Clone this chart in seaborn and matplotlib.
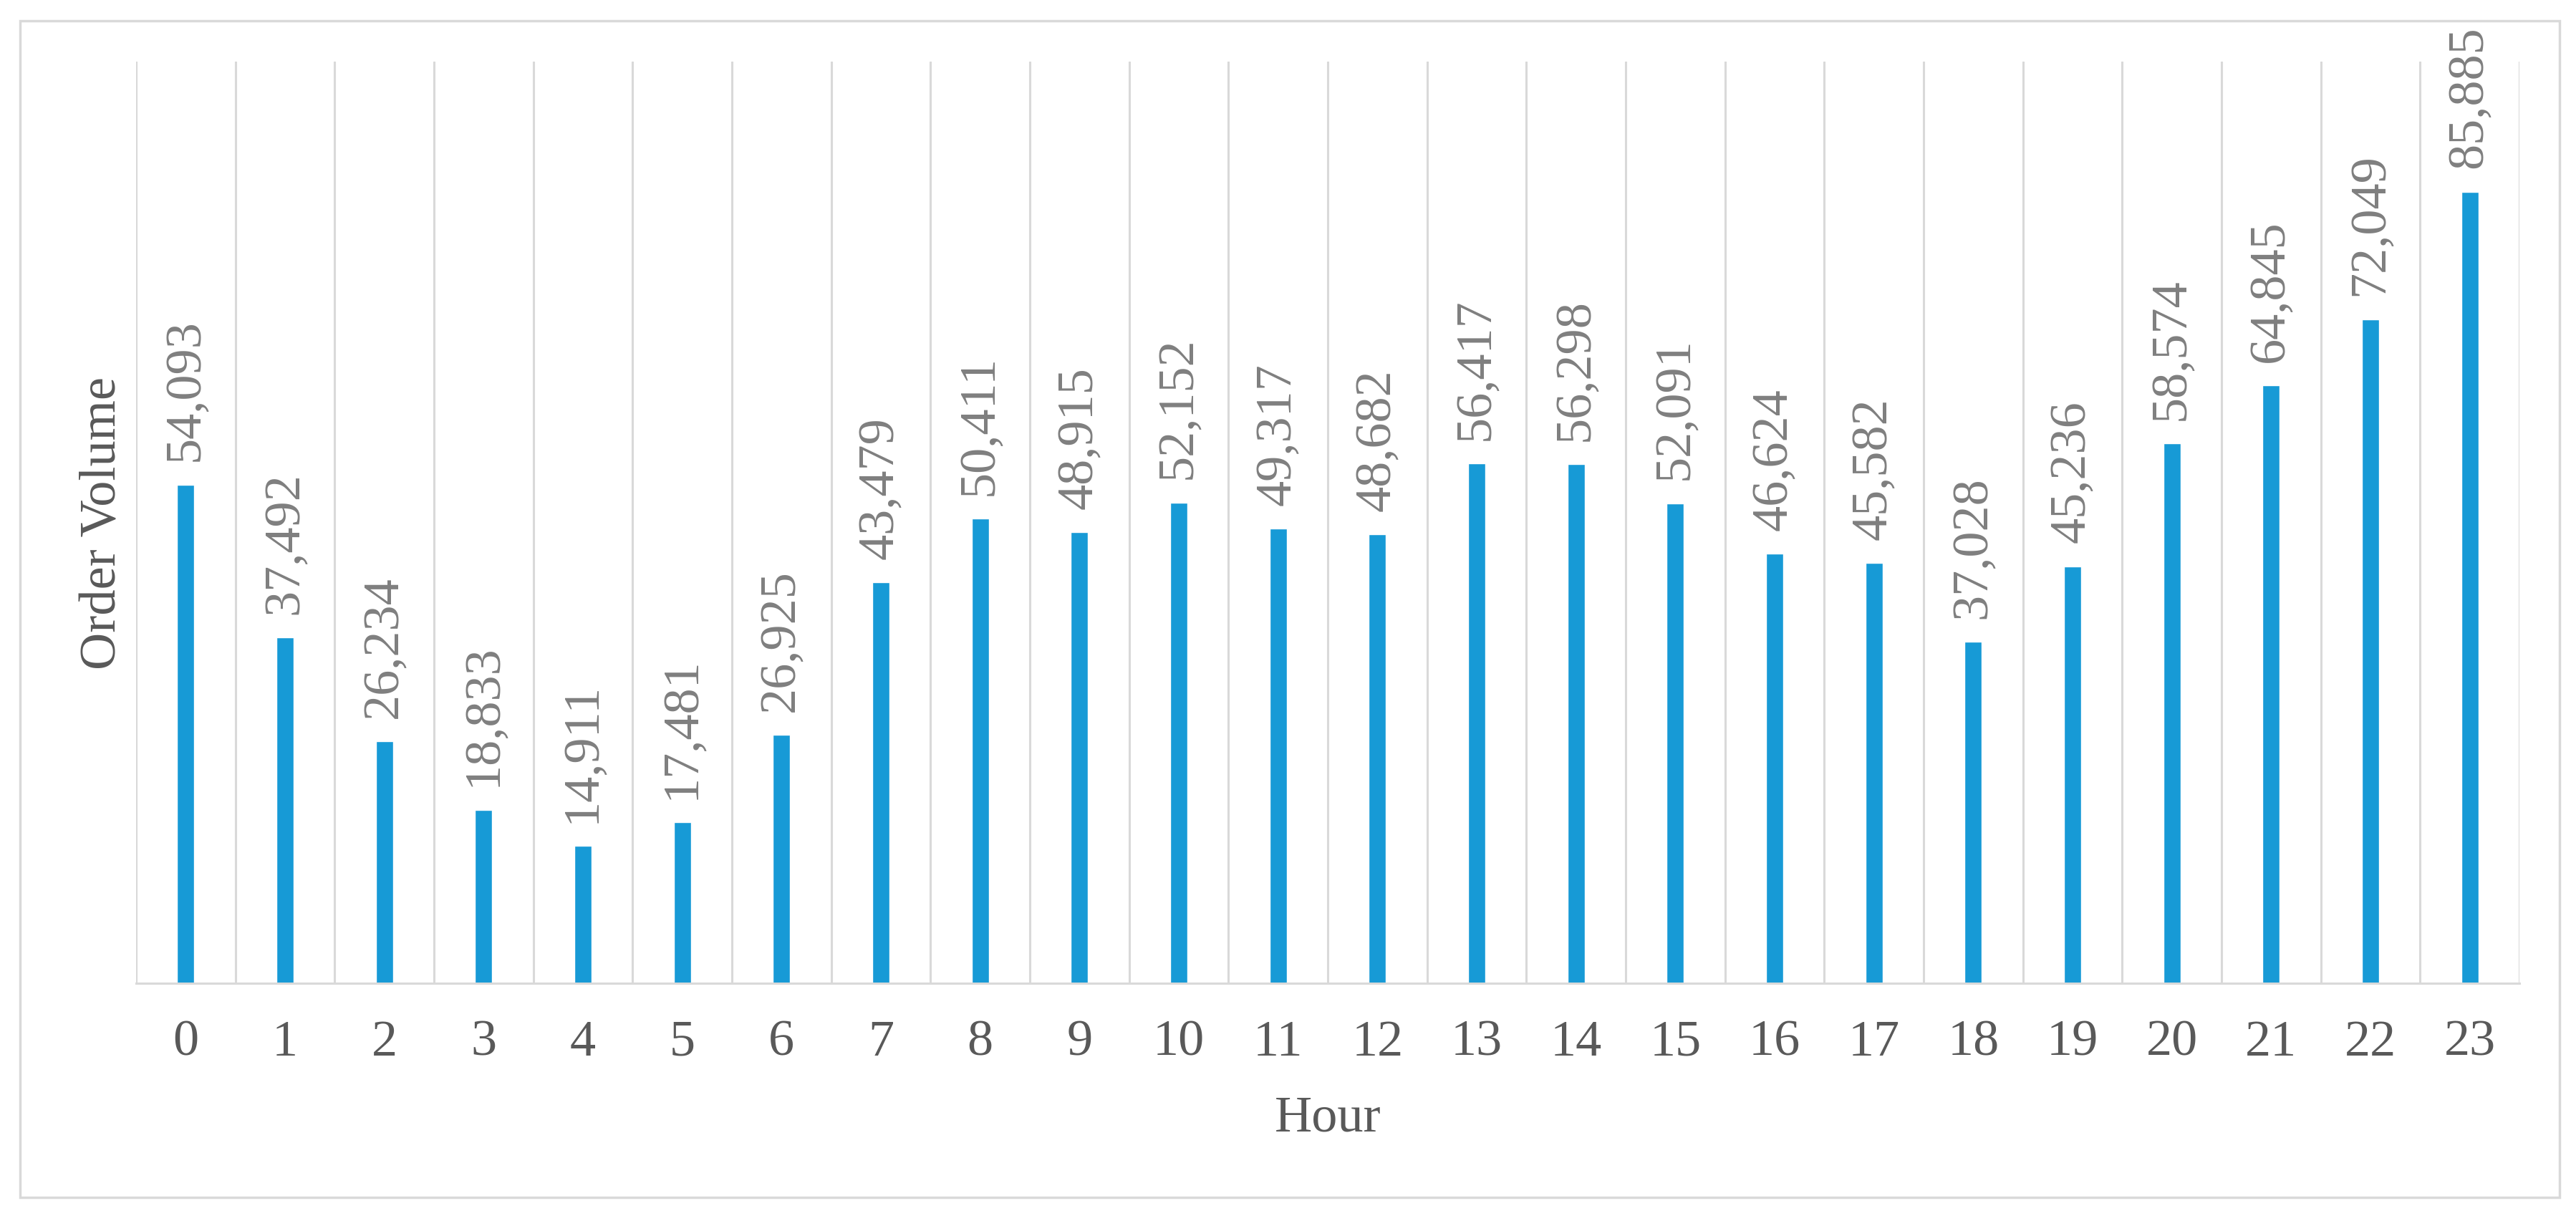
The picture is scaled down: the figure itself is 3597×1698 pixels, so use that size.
import matplotlib
matplotlib.use("Agg")
import matplotlib.pyplot as plt
import matplotlib.patches as mpatches
import seaborn as sns
import pandas as pd

# Hourly order counts
hours = list(range(24))
order_volume = [
    54093, 37492, 26234, 18833, 14911, 17481, 26925, 43479,
    50411, 48915, 52152, 49317, 48682, 56417, 56298, 52091,
    46624, 45582, 37028, 45236, 58574, 64845, 72049, 85885,
]

df = pd.DataFrame({"Hour": hours, "Order Volume": order_volume})

sns.set_style("white")
plt.rcParams["font.family"] = ["Liberation Serif", "DejaVu Serif"]

W, H, DPI = 3597, 1699, 100
fig = plt.figure(figsize=(W / DPI, H / DPI), dpi=DPI)
ax = fig.add_axes([190 / W, 1 - 1374 / H, (3518 - 190) / W, (1374 - 87) / H])

bar_color = "#179AD6"
grid_color = "#D9D9D9"
tick_color = "#595959"
value_color = "#7F7F7F"
fs = 52

sns.barplot(data=df, x="Hour", y="Order Volume", color=bar_color,
            width=0.175, saturation=1, ax=ax)

ax.set_ylim(0, 100000)
ax.set_xlim(-0.5, len(hours) - 0.5)
ax.set_yticks([])

# vertical separators between categories
ax.set_xticks([i - 0.5 for i in range(len(hours) + 1)], minor=True)
ax.grid(True, which="minor", axis="x", color=grid_color, linewidth=2.2)
ax.grid(False, which="major")
ax.tick_params(axis="x", which="both", length=0)
ax.tick_params(axis="x", which="major", pad=36, labelsize=fs, labelcolor=tick_color)

for side in ["top", "right", "left"]:
    ax.spines[side].set_visible(False)
ax.spines["bottom"].set_color(grid_color)
ax.spines["bottom"].set_linewidth(2.2)

ax.bar_label(ax.containers[0], labels=[f"{v:,}" for v in order_volume],
             rotation=90, padding=24, fontsize=fs, color=value_color)

ax.set_xlabel("Hour", fontsize=fs, color=tick_color)
ax.set_ylabel("Order Volume", fontsize=fs, color=tick_color)
ax.xaxis.set_label_coords(0.5, -0.121)
ax.yaxis.set_label_coords(-0.004, 0.5)

# outer chart frame
frame = mpatches.Rectangle((28 / W, 1 - 1673 / H), (3574 - 28) / W, (1673 - 30) / H,
                           transform=fig.transFigure, fill=False,
                           edgecolor=grid_color, linewidth=2.5)
fig.patches.append(frame)

fig.savefig("out.png", dpi=DPI)
